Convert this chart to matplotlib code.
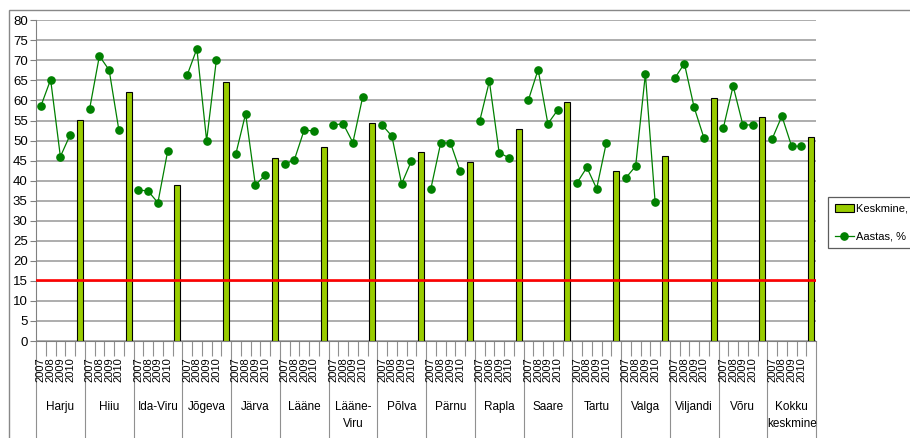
import numpy as np
import matplotlib
matplotlib.use("Agg")
import matplotlib.pyplot as plt
from matplotlib.patches import Rectangle
from matplotlib.lines import Line2D
import matplotlib.transforms as mtransforms

plt.rcParams['font.family'] = ['Liberation Sans', 'DejaVu Sans']

regions = ['Harju', 'Hiiu', 'Ida-Viru', 'Jõgeva', 'Järva', 'Lääne', 'Lääne-\nViru', 'Põlva',
           'Pärnu', 'Rapla', 'Saare', 'Tartu', 'Valga', 'Viljandi', 'Võru', 'Kokku\nkeskmine']
years = ['2007', '2008', '2009', '2010']
v2007 = [58.6, 57.9, 37.7, 66.3, 46.7, 44.1, 53.9, 53.9, 38.0, 54.8, 60.1, 39.5, 40.7, 65.5, 53.2, 50.4]
v2008 = [65.2, 71.1, 37.4, 72.9, 56.7, 45.2, 54.2, 51.1, 49.3, 64.8, 67.7, 43.3, 43.6, 69.2, 63.6, 56.1]
v2009 = [46.0, 67.6, 34.5, 50.0, 38.9, 52.6, 49.5, 39.2, 49.5, 47.0, 54.2, 38.0, 66.6, 58.3, 53.9, 48.6]
v2010 = [51.4, 52.6, 47.3, 70.1, 41.4, 52.4, 60.8, 44.9, 42.4, 45.7, 57.6, 49.5, 34.6, 50.7, 53.9, 48.6]
keskmine = [55.2, 62.0, 39.0, 64.6, 45.6, 48.3, 54.3, 47.2, 44.7, 52.8, 59.5, 42.5, 46.1, 60.5, 55.9, 50.9]
threshold = 15.3

n = len(regions)
per = len(years) + 1
slots = np.arange(n * per)
# yearly values, NaN in the bar slot so the line breaks between groups
yearly = np.column_stack([v2007, v2008, v2009, v2010, np.full(n, np.nan)]).ravel()
bar_x = np.arange(n) * per + len(years)

W, H = 910, 438
fig = plt.figure(figsize=(W / 100, H / 100), dpi=100)
ax = fig.add_axes([36 / W, 1 - 341 / H, 780 / W, (341 - 20.3) / H])

# outer chart border
fig.add_artist(Rectangle((9 / W, -0.1), 1.2, 1.1 - 10 / H, transform=fig.transFigure,
                         fill=False, edgecolor='#888888', lw=1))

ax.bar(bar_x, keskmine, width=0.62, color='#99CC00', edgecolor='black', lw=0.8, zorder=2,
       label='Keskmine, %')
ax.plot(slots, yearly, color='#008000', lw=0.9, marker='o', markersize=5.2, zorder=3,
        label='Aastas, %')
ax.axhline(threshold, color='red', lw=1.9, zorder=4)

ax.set_xlim(-0.5, n * per - 0.5)
ax.set_ylim(0, 80)
ax.set_yticks(np.arange(0, 81, 5))
ax.yaxis.grid(True, color='#a0a0a0', lw=1.2)
ax.set_axisbelow(True)
ax.tick_params(axis='y', length=4, color='#808080', labelsize=9.5, pad=2)

for s in ['top', 'right']:
    ax.spines[s].set_visible(False)
ax.spines['left'].set_color('#808080')
ax.spines['bottom'].set_color('#808080')

# category axis: short ticks at every slot, long ticks at group borders
ax.set_xticks(np.arange(0, n + 1) * per - 0.5)
ax.set_xticks(slots - 0.5, minor=True)
ax.tick_params(axis='x', which='major', length=70, color='#909090', width=0.8, labelbottom=False)
ax.tick_params(axis='x', which='minor', length=11, color='#909090', width=0.8)

trans = mtransforms.blended_transform_factory(ax.transData, fig.transFigure)
for i, reg in enumerate(regions):
    for k, yr in enumerate(years):
        ax.text(i * per + k, 1 - 357 / H, yr, transform=trans, rotation=90,
                ha='center', va='top', fontsize=8)
    ax.text(i * per + 2, 1 - 401 / H, reg, transform=trans, ha='center', va='top',
            fontsize=8.5, linespacing=1.6)

handles = [Rectangle((0, 0), 1, 1, fc='#99CC00', ec='black', lw=0.8),
           Line2D([], [], color='#008000', lw=0.9, marker='o', markersize=5.2)]
leg = fig.legend(handles, ['Keskmine, %', 'Aastas, %'], loc='upper left',
                 bbox_to_anchor=(828 / W, 1 - 197 / H), fontsize=8, frameon=True,
                 fancybox=False, edgecolor='#333333', handlelength=1.7, handletextpad=0.25,
                 borderpad=0.6, borderaxespad=0, labelspacing=1.6)
leg.get_frame().set_linewidth(0.9)

fig.savefig('out.png', dpi=100)
